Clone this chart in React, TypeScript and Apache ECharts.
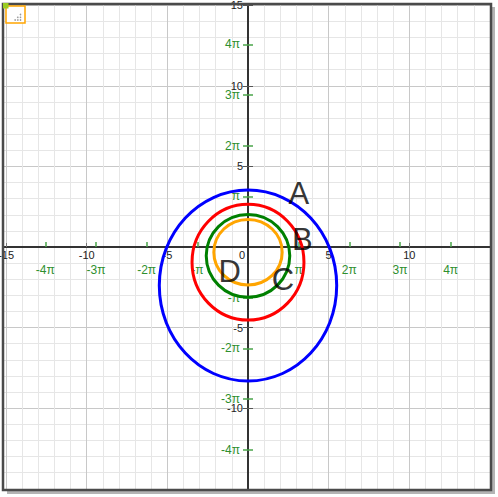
import React, { useEffect, useRef } from 'react';
import * as echarts from 'echarts';

const X_MIN = -15.13;
const X_MAX = 15.13;
const Y_MIN = -15.07;
const Y_MAX = 15.07;

// Curves (closed ovals)
const curveNames = ['A', 'B', 'C', 'D'];
const curveColors = ['#0000ff', '#ff0000', '#008000', '#ffa500'];
const centerX = [0, 0, 0, 0];
const centerY = [-2.39, -0.94, -0.55, -0.32];
const radiusX = [5.5, 3.47, 2.59, 2.12];
const radiusY = [5.92, 3.59, 2.57, 2.03];

// Letter labels
const labelX = [3.15, 3.37, 2.17, -1.13];
const labelY = [3.32, 0.48, -2.0, -1.55];

// Axis ticks / labels
const xNumberLabels = [-15, -10, -5, 0, 5, 10];
const yNumberLabels = [-10, -5, 5, 10, 15];
const numberTicks = [-15, -10, -5, 5, 10, 15];
const piMultiples = [-4, -3, -2, -1, 1, 2, 3, 4];
const majorGrid = [-15, -10, -5, 5, 10, 15];
const minorGrid = [-14, -13, -12, -11, -9, -8, -7, -6, -4, -3, -2, -1, 1, 2, 3, 4, 6, 7, 8, 9, 11, 12, 13, 14];

const piValues = piMultiples.map((k) => k * Math.PI);
const FONT = '"Liberation Sans", Arial, sans-serif';
const GREEN_TEXT = '#2e8f2e';
const GREEN_TICK = '#4aa44a';

const GRID_LEFT = 4;
const GRID_TOP = 4;
const GRID_W = 488;
const GRID_H = 486;
// place axes on the zero lines (offset is measured inward from grid edge)
const X_AXIS_OFFSET = -(GRID_H * (0 - Y_MIN)) / (Y_MAX - Y_MIN);
const Y_AXIS_OFFSET = -(GRID_W * (0 - X_MIN)) / (X_MAX - X_MIN);

const piFormatter = (v: number) => {
  const k = Math.round(v / Math.PI);
  if (k === 1) return 'π';
  if (k === -1) return '-π';
  return k + 'π';
};

function baseAxis(min: number, max: number, extra: any) {
  return {
    type: 'value',
    min,
    max,
    gridIndex: 0,
    z: 0,
    axisLine: { show: false, onZero: false },
    axisTick: { show: false },
    axisLabel: { show: false },
    splitLine: { show: false },
    ...extra,
  };
}

export default function App() {
  const ref = useRef<HTMLDivElement>(null);

  useEffect(() => {
    if (!ref.current) return;
    const chart = echarts.init(ref.current, undefined, { renderer: 'svg' });

    const xAxes = [
      baseAxis(X_MIN, X_MAX, {
        position: 'bottom',
        axisTick: { show: false, customValues: minorGrid },
        splitLine: { show: true, lineStyle: { color: '#e6e6e6', width: 1 } },
      }),
      baseAxis(X_MIN, X_MAX, {
        position: 'bottom',
        axisTick: { show: false, customValues: majorGrid },
        splitLine: { show: true, lineStyle: { color: '#c8c8c8', width: 1 } },
      }),
      baseAxis(X_MIN, X_MAX, {
        position: 'bottom',
        offset: X_AXIS_OFFSET,
        z: 1,
        axisLine: { show: true, onZero: false, lineStyle: { color: '#333', width: 2 } },
        axisTick: { show: true, inside: true, length: 4, customValues: numberTicks, lineStyle: { color: '#777', width: 1 } },
        axisLabel: {
          show: true,
          customValues: xNumberLabels,
          margin: 2,
          fontSize: 11,
          fontFamily: FONT,
          color: '#222',
          formatter: (v: number) => (v === 0 ? '{o|0}' : String(v)),
          rich: { o: { fontSize: 11, fontFamily: FONT, color: '#222', padding: [0, 12, 0, 0] } },
        },
      }),
      baseAxis(X_MIN, X_MAX, {
        position: 'bottom',
        offset: X_AXIS_OFFSET,
        z: 1,
        axisTick: { show: true, inside: true, length: 5, customValues: piValues, lineStyle: { color: GREEN_TICK, width: 1.5 } },
        axisLabel: {
          show: true,
          customValues: piValues,
          margin: 17,
          fontSize: 12,
          fontFamily: FONT,
          color: GREEN_TEXT,
          formatter: piFormatter,
        },
      }),
    ];

    const yAxes = [
      baseAxis(Y_MIN, Y_MAX, {
        position: 'left',
        axisTick: { show: false, customValues: minorGrid },
        splitLine: { show: true, lineStyle: { color: '#e6e6e6', width: 1 } },
      }),
      baseAxis(Y_MIN, Y_MAX, {
        position: 'left',
        axisTick: { show: false, customValues: majorGrid },
        splitLine: { show: true, lineStyle: { color: '#c8c8c8', width: 1 } },
      }),
      baseAxis(Y_MIN, Y_MAX, {
        position: 'left',
        offset: Y_AXIS_OFFSET,
        z: 1,
        axisLine: { show: true, onZero: false, lineStyle: { color: '#333', width: 2 } },
        axisTick: { show: true, inside: false, length: 5, customValues: numberTicks, lineStyle: { color: '#555', width: 1 } },
        axisLabel: {
          show: true,
          customValues: yNumberLabels,
          margin: 5,
          fontSize: 11,
          fontFamily: FONT,
          color: '#222',
        },
      }),
      baseAxis(Y_MIN, Y_MAX, {
        position: 'left',
        offset: Y_AXIS_OFFSET,
        z: 1,
        axisTick: { show: true, inside: true, length: 5, customValues: numberTicks, lineStyle: { color: '#555', width: 1 } },
      }),
      baseAxis(Y_MIN, Y_MAX, {
        position: 'left',
        offset: Y_AXIS_OFFSET,
        z: 1,
        axisTick: { show: true, inside: false, length: 5, customValues: piValues, lineStyle: { color: GREEN_TICK, width: 1.5 } },
        axisLabel: {
          show: true,
          customValues: piValues,
          margin: 8,
          fontSize: 12,
          fontFamily: FONT,
          color: GREEN_TEXT,
          formatter: piFormatter,
        },
      }),
      baseAxis(Y_MIN, Y_MAX, {
        position: 'left',
        offset: Y_AXIS_OFFSET,
        z: 1,
        axisTick: { show: true, inside: true, length: 5, customValues: piValues, lineStyle: { color: GREEN_TICK, width: 1.5 } },
      }),
    ];

    const curveSeries = curveNames.map((name, i) => ({
      type: 'custom',
      name,
      xAxisIndex: 2,
      yAxisIndex: 2,
      z: 2,
      data: [[centerX[i], centerY[i], radiusX[i], radiusY[i]]],
      renderItem: (_params: any, api: any) => {
        const c = api.coord([api.value(0), api.value(1)]);
        const s = api.size([api.value(2), api.value(3)], [api.value(0), api.value(1)]);
        return {
          type: 'ellipse',
          shape: { cx: c[0], cy: c[1], rx: s[0], ry: s[1] },
          style: { fill: 'none', stroke: curveColors[i], lineWidth: 3 },
        };
      },
    }));

    const labelSeries = {
      type: 'scatter',
      xAxisIndex: 2,
      yAxisIndex: 2,
      z: 3,
      symbolSize: 0,
      itemStyle: { color: '#000' },
      data: curveNames.map((name, i) => ({ name, value: [labelX[i], labelY[i]] })),
      label: {
        show: true,
        position: 'inside',
        formatter: (p: any) => p.name,
        fontSize: 31,
        fontFamily: FONT,
        color: '#000',
        textBorderWidth: 0,
        textBorderColor: 'transparent',
      },
    };

    const dots = [
      [20.5, 14.5],
      [20.5, 17.3],
      [17.8, 17.3],
      [20.5, 20],
      [17.8, 20],
      [15.1, 20],
    ];

    chart.setOption({
      animation: false,
      backgroundColor: '#ffffff',
      grid: {
        left: GRID_LEFT,
        top: GRID_TOP,
        width: GRID_W,
        height: GRID_H,
        containLabel: false,
        outerBoundsMode: 'none',
      },
      xAxis: xAxes,
      yAxis: yAxes,
      series: [...curveSeries, labelSeries],
      graphic: [
        { type: 'rect', z: 100, shape: { x: 492, y: 7, width: 3, height: 487 }, style: { fill: '#b4b4b4' } },
        { type: 'rect', z: 100, shape: { x: 7, y: 491, width: 488, height: 3 }, style: { fill: '#b4b4b4' } },
        { type: 'rect', z: 101, shape: { x: 3, y: 4, width: 488, height: 486 }, style: { fill: 'none', stroke: '#4a4a4a', lineWidth: 2.5 } },
        { type: 'rect', z: 102, shape: { x: 6, y: 6, width: 19, height: 17 }, style: { fill: '#ffffff', stroke: '#ffa500', lineWidth: 1.5 } },
        { type: 'rect', z: 103, shape: { x: 3, y: 3, width: 5.5, height: 5.5 }, style: { fill: '#99cc22' } },
        ...dots.map((d) => ({
          type: 'circle',
          z: 103,
          shape: { cx: d[0], cy: d[1], r: 0.8 },
          style: { fill: '#9a9a9a' },
        })),
      ],
    });

    return () => chart.dispose();
  }, []);

  return (
    <div
      ref={ref}
      style={{ position: 'fixed', left: 0, top: 0, width: 498, height: 497, background: '#fff' }}
    />
  );
}
